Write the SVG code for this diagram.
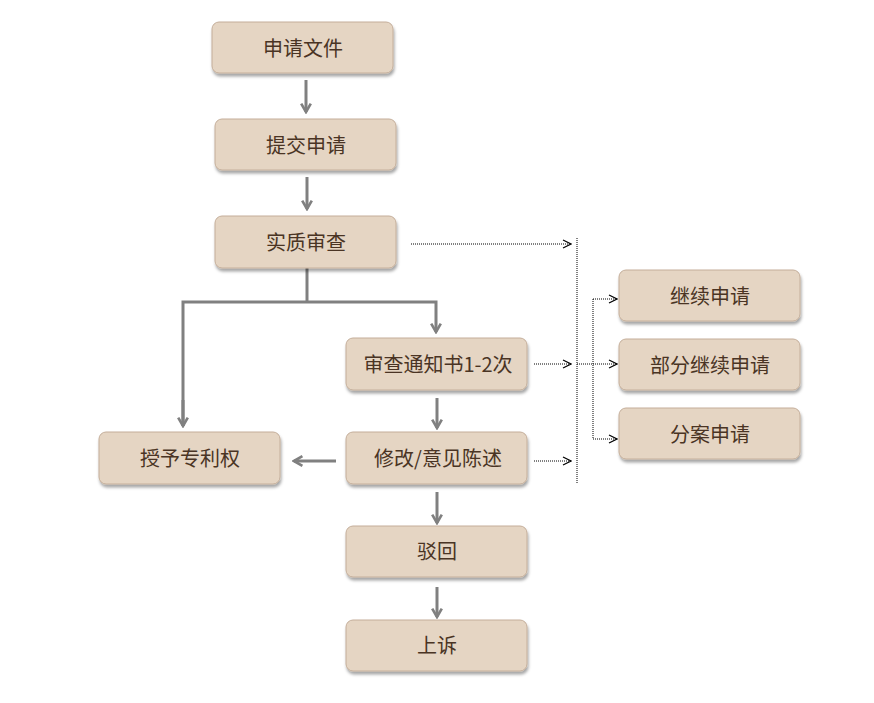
<svg xmlns="http://www.w3.org/2000/svg" width="874" height="703" viewBox="0 0 874 703">
<style>
.box{fill:#e5d5c3;stroke:#c4ae9a;stroke-width:1;filter:url(#sh)}
.lbl{font-family:"Microsoft YaHei","Noto Sans CJK SC",sans-serif;font-size:20px;fill:#4a3424;text-anchor:middle;dominant-baseline:central}
.g{fill:none;stroke:#808080;stroke-width:3}
.d{fill:none;stroke:#000;stroke-width:1;stroke-dasharray:1 1}
</style>
<defs>
<filter id="sh" x="-10%" y="-20%" width="130%" height="150%">
<feDropShadow dx="1" dy="3" stdDeviation="1.5" flood-color="#000" flood-opacity="0.35"/>
</filter>
<marker id="ga" viewBox="0 0 10 10" refX="8" refY="5" markerWidth="4" markerHeight="4" orient="auto" markerUnits="strokeWidth">
<path d="M1,1 L8,5 L1,9" fill="none" stroke="#808080" stroke-width="2.2"/>
</marker>
<marker id="da" viewBox="0 0 10 10" refX="9" refY="5" markerWidth="10" markerHeight="10" orient="auto" markerUnits="userSpaceOnUse">
<path d="M1,1 L9,5 L1,9" fill="none" stroke="#000" stroke-width="1.2"/>
</marker>
</defs>
<rect width="874" height="703" fill="#fff"/>
<g id="connectors">
<line class="g" x1="306" y1="80" x2="306" y2="112" marker-end="url(#ga)"/>
<line class="g" x1="307" y1="177" x2="307" y2="209" marker-end="url(#ga)"/>
<polyline class="g" points="307,268 307,302"/>
<polyline class="g" points="183,426 183,302 436,302 436,332" marker-end="url(#ga)"/>
<line class="g" x1="183" y1="400" x2="183" y2="426" marker-end="url(#ga)"/>
<line class="g" x1="437" y1="398" x2="437" y2="428" marker-end="url(#ga)"/>
<line class="g" x1="336" y1="461" x2="294" y2="461" marker-end="url(#ga)"/>
<line class="g" x1="437" y1="492" x2="437" y2="523" marker-end="url(#ga)"/>
<line class="g" x1="437" y1="587" x2="437" y2="617" marker-end="url(#ga)"/>
<line class="d" x1="411" y1="244" x2="571" y2="244" marker-end="url(#da)"/>
<line class="d" x1="577" y1="238" x2="577" y2="483"/>
<line class="d" x1="534" y1="364" x2="571" y2="364" marker-end="url(#da)"/>
<line class="d" x1="534" y1="461" x2="571" y2="461" marker-end="url(#da)"/>
<line class="d" x1="577" y1="364" x2="617" y2="364" marker-end="url(#da)"/>
<line class="d" x1="593" y1="299" x2="593" y2="439"/>
<line class="d" x1="593" y1="299" x2="617" y2="299" marker-end="url(#da)"/>
<line class="d" x1="593" y1="439" x2="617" y2="439" marker-end="url(#da)"/>
</g>
<g id="n1"><rect class="box" x="212" y="22" width="181" height="51" rx="7"/><text class="lbl" x="303" y="47">申请文件</text></g>
<g id="n2"><rect class="box" x="215" y="119" width="181" height="51" rx="7"/><text class="lbl" x="306" y="144">提交申请</text></g>
<g id="n3"><rect class="box" x="215" y="216" width="181" height="52" rx="7"/><text class="lbl" x="306" y="241">实质审查</text></g>
<g id="n4"><rect class="box" x="346" y="338" width="181" height="52" rx="7"/><text class="lbl" x="438" y="363">审查通知书1-2次</text></g>
<g id="n5"><rect class="box" x="99" y="432" width="181" height="52" rx="7"/><text class="lbl" x="190" y="457">授予专利权</text></g>
<g id="n6"><rect class="box" x="346" y="432" width="181" height="52" rx="7"/><text class="lbl" x="438" y="457">修改/意见陈述</text></g>
<g id="n7"><rect class="box" x="346" y="526" width="181" height="51" rx="7"/><text class="lbl" x="437" y="550">驳回</text></g>
<g id="n8"><rect class="box" x="346" y="620" width="181" height="51" rx="7"/><text class="lbl" x="437" y="644">上诉</text></g>
<g id="n9"><rect class="box" x="619" y="270" width="181" height="51" rx="7"/><text class="lbl" x="710" y="295">继续申请</text></g>
<g id="n10"><rect class="box" x="619" y="339" width="181" height="51" rx="7"/><text class="lbl" x="710" y="364">部分继续申请</text></g>
<g id="n11"><rect class="box" x="619" y="408" width="181" height="51" rx="7"/><text class="lbl" x="710" y="433">分案申请</text></g>
</svg>
